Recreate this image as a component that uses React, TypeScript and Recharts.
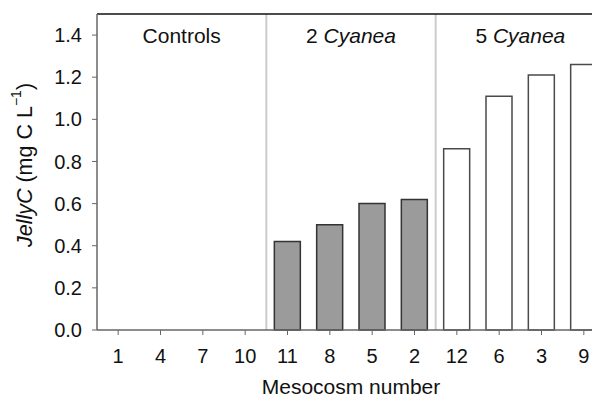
import { BarChart, Bar, XAxis, YAxis, Cell, ReferenceLine, ReferenceArea } from 'recharts';

const mesocosms = ['1', '4', '7', '10', '11', '8', '5', '2', '12', '6', '3', '9'];
const jellyC = [0, 0, 0, 0, 0.42, 0.5, 0.6, 0.62, 0.86, 1.11, 1.21, 1.26];
const treatments = ['control', 'control', 'control', 'control', 'two', 'two', 'two', 'two', 'five', 'five', 'five', 'five'];
const yTicks = [0, 0.2, 0.4, 0.6, 0.8, 1.0, 1.2, 1.4];

const FONT = '"Liberation Sans", Arial, sans-serif';

const groupLabel = (lead: string, italic?: string) => (props: any) => {
  const vb = props?.viewBox ?? {};
  return (
    <text
      x={vb.x + vb.width / 2}
      y={vb.y + 29}
      textAnchor="middle"
      fontSize={21}
      fill="#111"
      fontFamily={FONT}
    >
      {lead}
      {italic ? <tspan fontStyle="italic">{italic}</tspan> : null}
    </text>
  );
};

const YLabel = () => {
  const cx = 17;
  const cy = 157;
  return (
    <text
      x={cx}
      y={cy}
      transform={`rotate(-90, ${cx}, ${cy})`}
      textAnchor="middle"
      dominantBaseline="central"
      fontSize={21.5}
      fill="#111"
      fontFamily={FONT}
    >
      <tspan fontStyle="italic">JellyC</tspan>
      <tspan> (mg C L</tspan>
      <tspan fontSize={14} dy={-9}>−1</tspan>
      <tspan dy={9}>)</tspan>
    </text>
  );
};

export default function App() {
  const data = mesocosms.map((name, i) => ({ name, value: jellyC[i], group: treatments[i] }));

  const fillFor = (g: string) => (g === 'two' ? '#9b9b9b' : '#ffffff');
  const strokeFor = (g: string) => (g === 'two' ? '#333333' : '#4a4a4a');

  return (
    <div style={{ width: 592, height: 391, overflow: 'hidden', fontFamily: FONT }}>
      <BarChart
        width={600}
        height={391}
        data={data}
        margin={{ top: 6, right: 3, left: 0, bottom: 9 }}
        style={{ fontFamily: FONT }}
      >
        <ReferenceArea x1="1" x2="10" fill="none" fillOpacity={0} stroke="none" ifOverflow="visible" label={groupLabel('Controls')} />
        <ReferenceArea x1="11" x2="2" fill="none" fillOpacity={0} stroke="none" ifOverflow="visible" label={groupLabel('2 ', 'Cyanea')} />
        <ReferenceArea x1="12" fill="none" fillOpacity={0} stroke="none" ifOverflow="visible" label={groupLabel('5 ', 'Cyanea')} />
        <ReferenceLine x="11" position="start" stroke="#cccccc" strokeWidth={2} />
        <ReferenceLine x="12" position="start" stroke="#cccccc" strokeWidth={2} />
        <ReferenceLine y={1.5} stroke="#111111" strokeWidth={1.5} />
        <XAxis
          dataKey="name"
          height={60}
          tickLine={{ stroke: '#666' }}
          axisLine={{ stroke: '#666', strokeWidth: 1.5 }}
          tickSize={5}
          tickMargin={14}
          tick={{ fontSize: 20, fill: '#111' }}
          interval={0}
          label={{ value: 'Mesocosm number', position: 'insideBottom', offset: -4, fontSize: 21, fill: '#111' }}
        />
        <YAxis
          width={89}
          domain={[0, 1.5]}
          ticks={yTicks}
          tickFormatter={(v: number) => v.toFixed(1)}
          tickLine={{ stroke: '#666' }}
          axisLine={{ stroke: '#666', strokeWidth: 1.5 }}
          tickSize={5}
          tickMargin={10}
          tick={{ fontSize: 20, fill: '#111' }}
          label={<YLabel />}
        />
        <Bar dataKey="value" barSize={26} isAnimationActive={false} strokeWidth={1.5}>
          {data.map((d, i) => (
            <Cell key={`cell-${i}`} fill={fillFor(d.group)} stroke={strokeFor(d.group)} />
          ))}
        </Bar>
      </BarChart>
    </div>
  );
}
